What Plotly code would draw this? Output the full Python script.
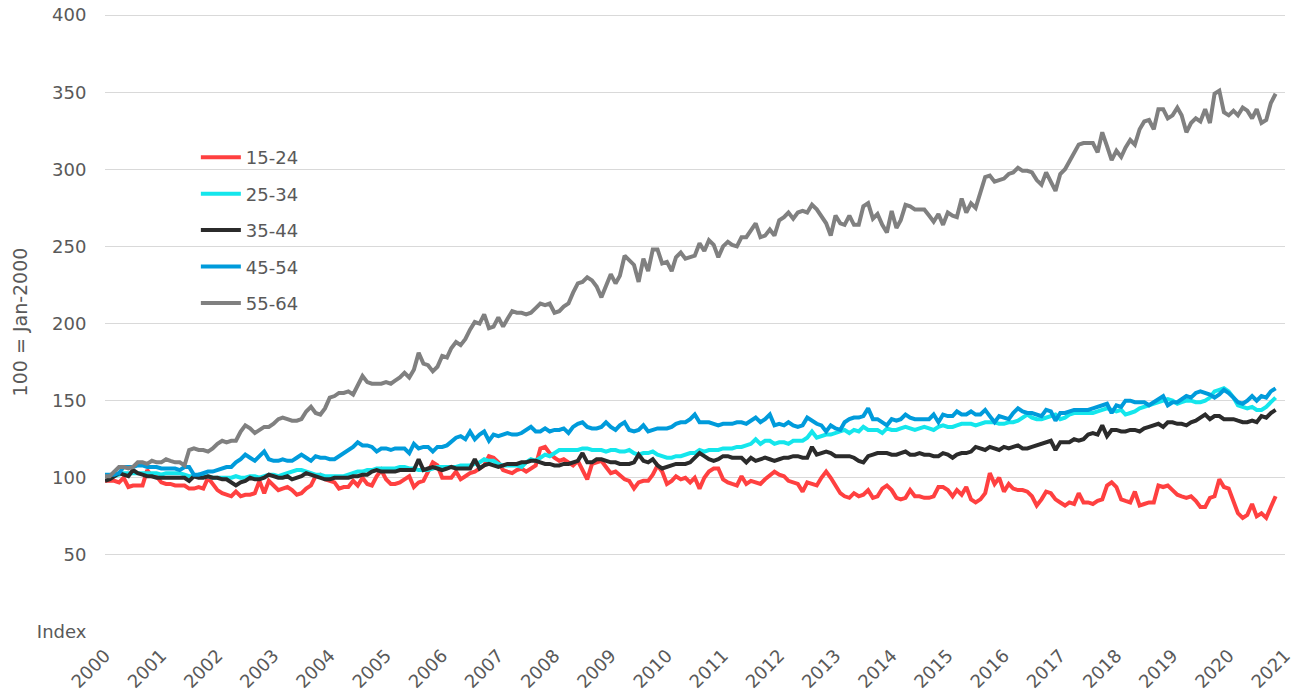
import pandas as pd
import plotly.graph_objects as go

series_names = ["15-24", "25-34", "35-44", "45-54", "55-64"]
series_colors = ["#FF4040", "#14E6EC", "#2B2B2B", "#009BDB", "#808080"]
start_month = "2000-01-01"
year_ticks = list(range(2000, 2022))
y_tick_values = [0, 50, 100, 150, 200, 250, 300, 350, 400]
y_tick_labels = ["Index", "50", "100", "150", "200", "250", "300", "350", "400"]

# Monthly index values, Jan-2000 = 100 (Jan 2000 .. Nov 2020)
age_15_24 = [
    98, 98, 98, 97, 100, 94, 95, 95, 95, 105, 101, 101,
    97, 96, 96, 95, 95, 95, 93, 93, 94, 93, 100, 96,
    92, 90, 89, 88, 91, 88, 89, 89, 90, 98, 90, 98,
    95, 92, 93, 94, 92, 89, 90, 93, 95, 101, 102, 99,
    98, 97, 93, 94, 94, 98, 95, 100, 96, 95, 101, 105,
    99, 96, 96, 97, 99, 101, 94, 97, 98, 104, 110, 108,
    100, 100, 100, 104, 99, 101, 103, 104, 106, 108, 114, 113,
    110, 105, 104, 103, 105, 106, 104, 106, 108, 119, 120, 116,
    113, 111, 112, 110, 108, 111, 105, 99, 109, 110, 111, 107,
    103, 104, 102, 99, 98, 93, 97, 98, 98, 102, 108, 104,
    96, 98, 101, 99, 100, 97, 100, 93, 100, 104, 106, 106,
    99, 97, 96, 95, 101, 96, 98, 97, 96, 99, 102, 104,
    102, 101, 98, 97, 96, 91, 97, 96, 95, 100, 104, 100,
    95, 90, 88, 87, 90, 88, 89, 92, 87, 88, 93, 95,
    92, 87, 86, 87, 92, 88, 88, 87, 87, 88, 94, 94,
    92, 88, 92, 89, 94, 86, 84, 86, 90, 103, 96, 100,
    91, 96, 93, 92, 92, 91, 88, 82, 86, 91, 90, 86,
    84, 82, 84, 83, 90, 84, 84, 83, 85, 86, 95, 97,
    94, 86, 85, 84, 91, 82, 83, 84, 84, 95, 94, 95,
    92, 89, 88, 87, 88, 85, 81, 81, 87, 88, 99, 94,
    93, 84, 77, 74, 76, 83, 75, 77, 74, 81, 88,
]

age_25_34 = [
    101, 101, 101, 102, 103, 103, 103, 103, 103, 103, 103, 103,
    102, 103, 103, 103, 103, 102, 101, 101, 102, 101, 101, 100,
    100, 100, 100, 100, 101, 100, 100, 101, 101, 100, 101, 102,
    102, 101, 102, 103, 104, 105, 105, 104, 103, 102, 102, 101,
    101, 101, 101, 101, 102, 103, 104, 104, 105, 105, 106, 106,
    106, 106, 106, 107, 107, 106, 106, 105, 105, 105, 106, 107,
    107, 107, 107, 107, 108, 108, 108, 109, 110, 112, 111, 111,
    109, 108, 108, 108, 108, 107, 110, 112, 111, 113, 115, 114,
    116, 118, 118, 118, 118, 118, 119, 119, 118, 118, 118, 117,
    118, 118, 117, 117, 118, 116, 115, 116, 116, 117, 115, 114,
    113, 113, 114, 114, 115, 116, 116, 118, 117, 118, 118, 118,
    119, 119, 119, 120, 120, 121, 122, 125, 122, 124, 124, 122,
    123, 123, 122, 124, 124, 124, 126, 130, 126, 127, 128, 128,
    129, 130, 131, 129, 131, 130, 133, 131, 131, 131, 129, 132,
    131, 131, 132, 133, 132, 131, 132, 133, 132, 131, 133, 134,
    133, 133, 134, 135, 135, 135, 134, 135, 136, 136, 136, 135,
    135, 136, 136, 137, 139, 141, 139, 138, 138, 139, 140, 141,
    138, 139, 141, 142, 142, 142, 142, 142, 143, 144, 145, 144,
    143, 144, 141, 142, 143, 145, 146, 147, 148, 149, 150, 151,
    150, 148, 149, 150, 150, 149, 149, 150, 152, 156, 157, 158,
    156, 152, 147, 146, 145, 146, 144, 144, 146, 149, 152,
]

age_35_44 = [
    98, 99, 101, 103, 102, 101, 105, 103, 102, 101, 101, 100,
    100, 100, 100, 100, 100, 100, 98, 101, 100, 100, 101, 100,
    100, 99, 99, 97, 95, 97, 98, 100, 99, 99, 100, 102,
    101, 100, 100, 101, 99, 100, 101, 103, 102, 101, 100, 99,
    99, 100, 100, 100, 100, 101, 101, 102, 102, 104, 105, 104,
    104, 104, 104, 105, 105, 105, 105, 112, 105, 106, 107, 106,
    105, 106, 107, 106, 106, 106, 106, 112, 106, 108, 109, 108,
    107, 108, 109, 109, 109, 110, 110, 111, 111, 110, 109, 109,
    108, 108, 109, 109, 110, 111, 116, 110, 110, 112, 112, 111,
    110, 110, 109, 109, 109, 110, 115, 111, 110, 112, 108, 106,
    107, 108, 109, 109, 109, 110, 113, 116, 114, 112, 111, 112,
    114, 114, 113, 113, 113, 110, 113, 111, 112, 113, 112, 111,
    112, 113, 113, 114, 114, 113, 113, 120, 115, 116, 117, 116,
    114, 114, 114, 114, 113, 111, 110, 114, 115, 116, 116, 116,
    115, 115, 116, 117, 115, 115, 116, 115, 115, 114, 114, 116,
    115, 113, 115, 116, 116, 117, 120, 119, 118, 120, 119, 118,
    120, 119, 120, 121, 119, 119, 120, 121, 122, 123, 124, 118,
    123, 123, 123, 125, 124, 125, 128, 129, 128, 134, 127, 131,
    131, 130, 130, 131, 131, 130, 132, 133, 134, 135, 133, 136,
    136, 135, 135, 134, 136, 137, 139, 141, 138, 140, 140, 138,
    138, 138, 137, 136, 136, 137, 136, 140, 139, 142, 144,
]

age_45_54 = [
    102, 102, 102, 103, 107, 107, 107, 108, 108, 107, 107, 107,
    106, 106, 106, 106, 105, 107, 107, 102, 102, 103, 104, 104,
    105, 106, 107, 107, 110, 112, 115, 113, 111, 114, 117, 112,
    111, 111, 112, 111, 111, 113, 115, 113, 111, 114, 113, 113,
    112, 112, 114, 116, 118, 120, 123, 121, 121, 120, 117, 119,
    119, 118, 119, 119, 119, 116, 122, 119, 120, 120, 117, 120,
    120, 121, 123, 126, 127, 125, 130, 125, 128, 130, 124, 128,
    127, 128, 129, 128, 128, 129, 131, 133, 130, 130, 132, 130,
    131, 131, 132, 129, 133, 135, 136, 133, 132, 132, 133, 136,
    133, 131, 134, 136, 131, 130, 131, 134, 130, 131, 132, 132,
    132, 133, 135, 136, 136, 138, 141, 136, 136, 136, 135, 134,
    135, 135, 135, 136, 136, 135, 137, 139, 136, 138, 141, 134,
    135, 134, 136, 134, 133, 134, 139, 137, 135, 134, 130, 134,
    132, 131, 136, 138, 139, 139, 140, 145, 138, 138, 136, 134,
    138, 137, 138, 141, 139, 138, 138, 138, 138, 141, 136, 141,
    140, 140, 143, 141, 141, 143, 141, 141, 144, 140, 136, 140,
    139, 138, 142, 145, 143, 142, 142, 141, 140, 144, 143, 137,
    142, 142, 143, 144, 144, 144, 144, 145, 146, 147, 148, 142,
    147, 146, 150, 150, 149, 149, 149, 147, 149, 151, 153, 147,
    149, 149, 151, 153, 152, 155, 156, 155, 154, 152, 154, 157,
    155, 152, 149, 148, 150, 153, 150, 153, 152, 156, 158,
]

age_55_64 = [
    101, 101, 104, 107, 107, 106, 107, 110, 110, 109, 111, 110,
    110, 112, 111, 110, 110, 108, 118, 119, 118, 118, 117, 119,
    122, 124, 123, 124, 124, 130, 134, 132, 129, 131, 133, 133,
    135, 138, 139, 138, 137, 137, 138, 143, 146, 142, 141, 145,
    152, 153, 155, 155, 156, 154, 160, 166, 162, 161, 161, 161,
    162, 161, 163, 165, 168, 165, 170, 181, 174, 173, 169, 172,
    179, 178, 184, 188, 186, 190, 196, 201, 200, 206, 197, 198,
    204, 198, 203, 208, 207, 207, 206, 207, 210, 213, 212, 213,
    207, 208, 211, 213, 220, 226, 227, 230, 228, 224, 217, 225,
    232, 226, 231, 244, 241, 238, 227, 242, 234, 248, 248, 239,
    240, 234, 243, 246, 242, 243, 244, 252, 247, 254, 251, 243,
    250, 253, 251, 250, 256, 256, 260, 265, 256, 257, 261, 257,
    267, 269, 272, 268, 272, 273, 272, 277, 274, 269, 265, 257,
    270, 265, 264, 270, 264, 264, 276, 278, 268, 271, 264, 259,
    273, 262, 267, 277, 276, 274, 274, 274, 270, 266, 271, 264,
    272, 270, 269, 281, 272, 278, 275, 285, 295, 296, 292, 293,
    294, 297, 298, 301, 299, 299, 298, 293, 290, 298, 292, 286,
    297, 300, 305, 310, 316, 317, 317, 317, 311, 324, 315, 306,
    312, 308, 314, 319, 316, 326, 331, 332, 326, 339, 339, 333,
    335, 340, 335, 324, 330, 333, 331, 339, 330, 349, 351, 337,
    335, 338, 335, 340, 338, 333, 339, 330, 332, 343, 349,
]

all_series = [age_15_24, age_25_34, age_35_44, age_45_54, age_55_64]
months = pd.date_range(start_month, periods=len(age_55_64), freq="MS")

FONT = "DejaVu Sans"
TXT = "#595959"
FS = 18

fig = go.Figure()
for name, color, vals in zip(series_names, series_colors, all_series):
    fig.add_trace(go.Scatter(
        x=months, y=vals, mode="lines", name=name,
        legendgroup=name,
        line=dict(color=color, width=4),
    ))

# the page body has an 8px default margin, so the figure is offset by 8px
fig.update_layout(
    width=1293, height=683,
    margin=dict(l=97, r=16, t=4, b=59),
    paper_bgcolor="white", plot_bgcolor="white",
    font=dict(family=FONT, size=FS, color=TXT),
    showlegend=True,
    legend=dict(
        x=0.077, y=0.795, xanchor="left", yanchor="top",
        bgcolor="rgba(0,0,0,0)", tracegroupgap=10,
        font=dict(family=FONT, size=FS, color=TXT),
        itemwidth=40,
    ),
    xaxis=dict(
        type="date",
        range=[f"{year_ticks[0]}-01-01", f"{year_ticks[-1]}-01-01"],
        tickvals=[f"{y}-01-01" for y in year_ticks],
        ticktext=[str(y) for y in year_ticks],
        tickangle=-45,
        automargin=False, ticklabeloverflow="allow",
        showgrid=False, zeroline=False, showline=False,
        ticks="outside", ticklen=5, tickcolor="rgba(0,0,0,0)",
        tickfont=dict(family=FONT, size=FS, color=TXT),
    ),
    yaxis=dict(
        range=[0, 402],
        automargin=False, ticklabeloverflow="allow",
        tickvals=y_tick_values, ticktext=y_tick_labels,
        showgrid=True, gridcolor="#D9D9D9", gridwidth=1,
        zeroline=False, showline=False,
        ticks="outside", ticklen=14, tickcolor="rgba(0,0,0,0)",
        tickfont=dict(family=FONT, size=FS, color=TXT),
        title=dict(text="100 = Jan-2000", font=dict(family=FONT, size=19, color=TXT), standoff=4),
    ),
)

fig.write_html("out.html")
